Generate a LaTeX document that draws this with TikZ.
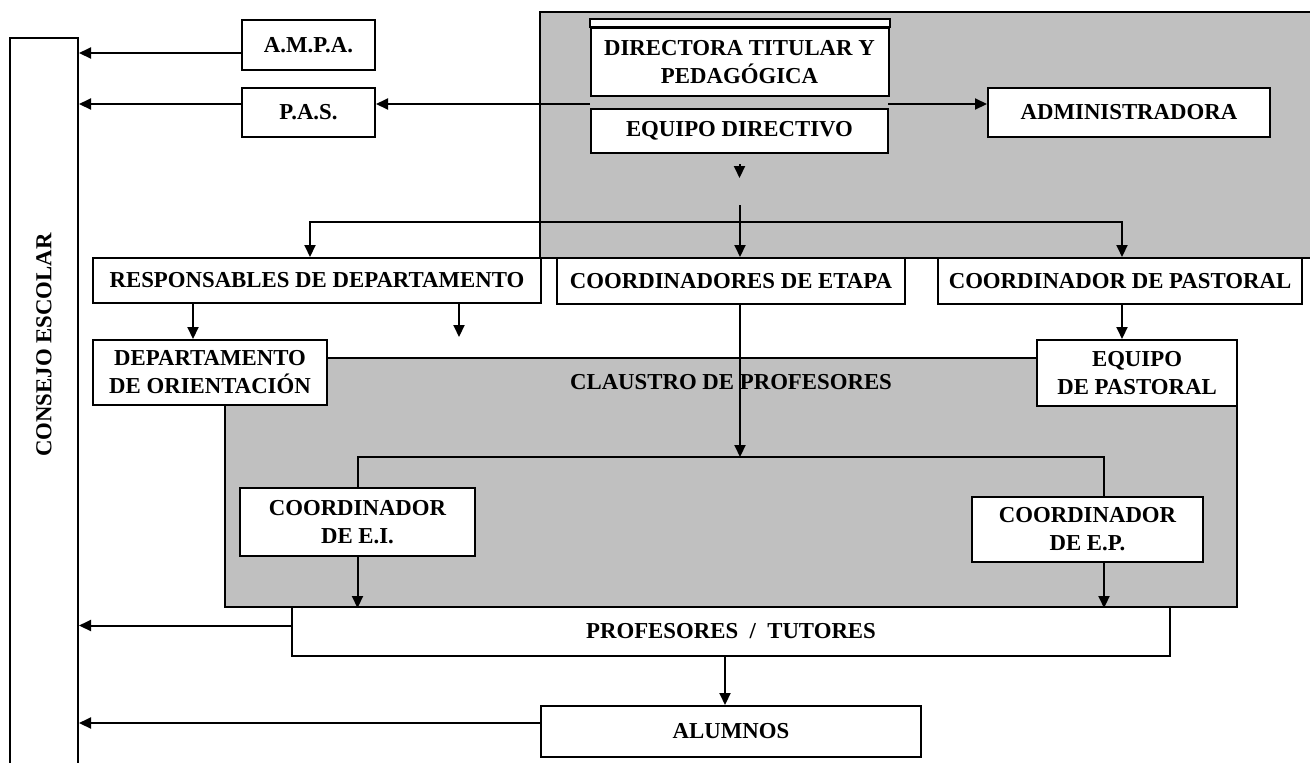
\documentclass[tikz,border=0pt]{standalone}
\usepackage{fontspec}
\setmainfont{Liberation Serif}
\usetikzlibrary{arrows.meta}
\definecolor{panelgray}{HTML}{C0C0C0}
\begin{document}
\begin{tikzpicture}[x=0.5pt,y=-0.5pt,line width=1pt,
	box/.style={draw,fill=white,inner sep=0pt,align=center,font=\bfseries\fontsize{11.4}{14}\selectfont},
	panel/.style={draw,fill=panelgray,inner sep=0pt},
	title/.style={font=\bfseries\fontsize{11.4}{14}\selectfont},
	arr/.style={-{Triangle[length=6pt,width=5.5pt]}}]

	\clip (0,0) rectangle (1310,762);
	% grey areas
	\node[panel, minimum width=395pt, minimum height=123pt] (direccion) at (935,135) {};
	\node[panel, minimum width=506pt, minimum height=124.5pt] (claustro) at (731,482.5) {};
	\node[title] (claustrotxt) at (731,382) {CLAUSTRO DE PROFESORES};

	\node[box, minimum width=34pt, minimum height=364pt] (consejo) at (44,402) {};
	\node[title, rotate=90] (consejotxt) at (44,345) {CONSEJO ESCOLAR};

	\node[box, minimum width=66.5pt, minimum height=25pt] (ampa) at (308.5,45) {A.M.P.A.};
	\node[box, minimum width=66.5pt, minimum height=24.5pt] (pas) at (308.5,112.5) {P.A.S.};
	\node[box, minimum width=149pt, minimum height=34pt] (directora) at (739.5,62) {DIRECTORA TITULAR Y\\PEDAGÓGICA};
	\draw[fill=white] (directora.north west) rectangle ([yshift=4pt]directora.north east);
	\node[box, minimum width=148.5pt, minimum height=22pt] (equipo) at (739.5,131) {EQUIPO DIRECTIVO};
	\node[box, minimum width=141pt, minimum height=24.5pt] (admin) at (1129,112.5) {ADMINISTRADORA};

	\node[box, minimum width=224pt, minimum height=22.5pt] (resp) at (317,280.5) {RESPONSABLES DE DEPARTAMENTO};
	\node[box, minimum width=174pt, minimum height=23pt] (etapa) at (731,281) {COORDINADORES DE ETAPA};
	\node[box, minimum width=182pt, minimum height=23pt] (pastoral) at (1120,281) {COORDINADOR DE PASTORAL};

	\node[box, minimum width=117pt, minimum height=32.5pt] (orient) at (210,372.5) {DEPARTAMENTO\\DE ORIENTACIÓN};
	\node[box, minimum width=100pt, minimum height=33pt] (eqpast) at (1137,373) {EQUIPO\\DE PASTORAL};

	\node[box, minimum width=117.5pt, minimum height=34pt] (coordei) at (357.5,522) {COORDINADOR\\DE E.I.};
	\node[box, minimum width=115.5pt, minimum height=32.5pt] (coordep) at (1087.5,529.5) {COORDINADOR\\DE E.P.};

	\node[box, minimum width=439pt, minimum height=24.5pt] (prof) at (731,631.5) {PROFESORES~~/~~TUTORES};
	\node[box, minimum width=190pt, minimum height=25.5pt] (alumnos) at (731,731.5) {ALUMNOS};

	% connectors
	\coordinate (dirL) at (590,104);
	\coordinate (dirR) at (888,104);
	\draw[arr] (dirL) -- (pas.east |- dirL);
	\draw[arr] (dirR) -- (admin.west |- dirR);
	\draw[arr] ([yshift=-4pt]ampa.west) -- ([yshift=-4pt]ampa.west -| consejo.east);
	\draw[arr] ([yshift=4.25pt]pas.west) -- ([yshift=4.25pt]pas.west -| consejo.east);
	\draw[arr] ([yshift=3pt]prof.west) -- ([yshift=3pt]prof.west -| consejo.east);
	\draw[arr] ([yshift=4.25pt]alumnos.west) -- ([yshift=4.25pt]alumnos.west -| consejo.east);

	\draw[arr] ([yshift=-5pt]equipo.south) -- ([yshift=-12pt]equipo.south);
	\coordinate (stem) at (740,205);
	\coordinate (fork) at (740,222);
	\draw[arr] (stem) -- (etapa.north -| stem);
	\draw[arr] (fork) -| ([xshift=-3.5pt]resp.north);
	\draw[arr] (fork) -| ([xshift=1pt]pastoral.north);

	\coordinate (oA) at ([xshift=-8.5pt]orient.north);
	\coordinate (loose) at (459,337);
	\coordinate (pA) at ([xshift=-7.5pt]eqpast.north);
	\draw[arr] (oA |- resp.south) -- (oA);
	\draw[arr] (loose |- resp.south) -- (loose);
	\draw[arr] (pA |- pastoral.south) -- (pA);

	\coordinate (fork2) at (740,457);
	\coordinate (epA) at ([xshift=8.25pt]coordep.north);
	\coordinate (epB) at ([xshift=8.25pt]coordep.south);
	\draw[arr] (etapa.south -| fork2) -- (fork2);
	\draw (coordei.north) |- (fork2) -| (epA);
	\draw[arr] (coordei.south) -- (coordei.south |- claustro.south);
	\draw[arr] (epB) -- (epB |- claustro.south);

	\coordinate (aA) at ([xshift=-3pt]alumnos.north);
	\draw[arr] (aA |- prof.south) -- (aA);

\end{tikzpicture}
\end{document}
